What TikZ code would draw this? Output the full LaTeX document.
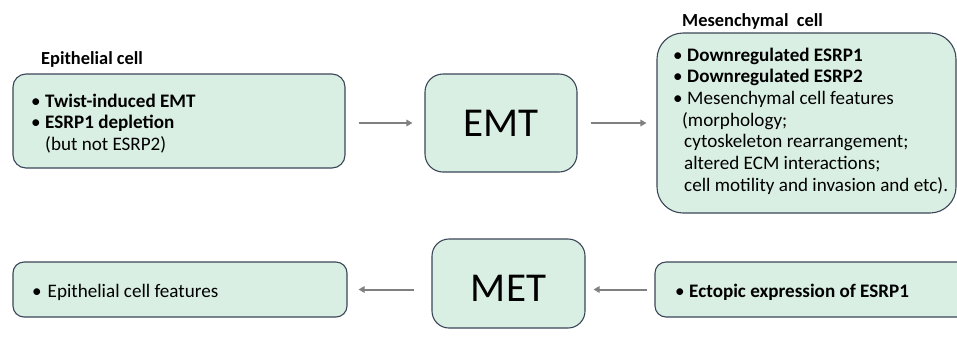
\documentclass[tikz,border=0pt]{standalone}
\usepackage{fontspec}
\setmainfont{Carlito}
\usetikzlibrary{arrows.meta}
\definecolor{boxfill}{HTML}{DAEFE3}
\definecolor{boxline}{HTML}{3B4658}
\definecolor{arrgray}{HTML}{808080}
\tikzset{
  cellbox/.style={draw=boxline, fill=boxfill, line width=1.1pt, inner sep=0pt},
  bodytext/.style={inner sep=0pt, anchor=base west, align=left, font=\fontsize{19.1}{21.4}\selectfont},
  titletext/.style={inner sep=0pt, anchor=base west, font=\fontsize{18.4}{20}\selectfont\bfseries},
  bigtext/.style={inner sep=0pt, font=\fontsize{41}{44}\selectfont},
  arr/.style={draw=arrgray, line width=2pt, -{Triangle[length=6pt,width=6.5pt]}},
}
\begin{document}
\begin{tikzpicture}[x=1pt,y=-1pt]
\clip (0,0) rectangle (957,338);
\fill[white] (0,0) rectangle (957,338);
% top row
\node[cellbox, rounded corners=13pt, minimum width=332pt, minimum height=94pt] (b1) at (179,121) {};
\node[cellbox, rounded corners=18pt, minimum width=152pt, minimum height=98pt] (emt) at (501,123) {};
\node[cellbox, rounded corners=26pt, minimum width=299pt, minimum height=180pt] (mes) at (806.5,123) {};
% bottom row
\node[cellbox, rounded corners=11pt, minimum width=334pt, minimum height=55pt] (b4) at (180,289.5) {};
\node[cellbox, rounded corners=17pt, minimum width=153pt, minimum height=89pt] (met) at (508.5,283.5) {};
\node[cellbox, rounded corners=11pt, minimum width=330pt, minimum height=55pt] (b6) at (820,289.5) {};
% titles
\node[titletext] (t1) at (41,64) {Epithelial cell};
\node[titletext] (t2) at (682,26) {Mesenchymal\ \ cell};
% big labels
\node[bigtext] (emtl) at (501,123) {EMT};
\node[bigtext] (metl) at (508.5,288) {MET};
% body texts
\node[bodytext] (x1) at (31,107) {\begin{tabular}[t]{@{}l@{\hspace{4.5pt}}l@{}}
• & \textbf{Twist-induced EMT}\\[0.3pt]
• & \textbf{ESRP1 depletion}\\[0.3pt]
  & (but not ESRP2)
\end{tabular}};
\node[bodytext] (x2) at (673,61) {\begin{tabular}[t]{@{}l@{\hspace{4.5pt}}l@{}}
• & \textbf{Downregulated ESRP1}\\[0.3pt]
• & \textbf{Downregulated ESRP2}\\[0.3pt]
• & Mesenchymal cell features\\[0.3pt]
\multicolumn{2}{@{}l@{}}{\hspace{9pt}(morphology;}\\[0.3pt]
\multicolumn{2}{@{}l@{}}{\hspace{11pt}cytoskeleton rearrangement;}\\[0.3pt]
\multicolumn{2}{@{}l@{}}{\hspace{11pt}altered ECM interactions;}\\[0.3pt]
\multicolumn{2}{@{}l@{}}{\hspace{11pt}cell motility and invasion and etc).}
\end{tabular}};
\node[bodytext] (x4) at (32,297) {•\hspace{6pt}Epithelial cell features};
\node[bodytext] (x6) at (675,297) {•\hspace{4.5pt}\textbf{Ectopic expression of ESRP1}};
% arrows
\coordinate (a1s) at ([xshift=13pt]b1.east |- emt.center);
\coordinate (a1e) at ([xshift=-12pt]emt.west);
\draw[arr] (a1s) -- (a1e);
\coordinate (a2s) at ([xshift=13pt]emt.east);
\coordinate (a2e) at ([xshift=-10pt]mes.west |- emt.center);
\draw[arr] (a2s) -- (a2e);
\coordinate (a3s) at ([xshift=-17pt]met.west |- b4.center);
\coordinate (a3e) at ([xshift=11pt]b4.east);
\draw[arr] (a3s) -- (a3e);
\coordinate (a4s) at ([xshift=-7pt]b6.west);
\coordinate (a4e) at ([xshift=8pt]met.east |- b6.center);
\draw[arr] (a4s) -- (a4e);
\end{tikzpicture}
\end{document}
